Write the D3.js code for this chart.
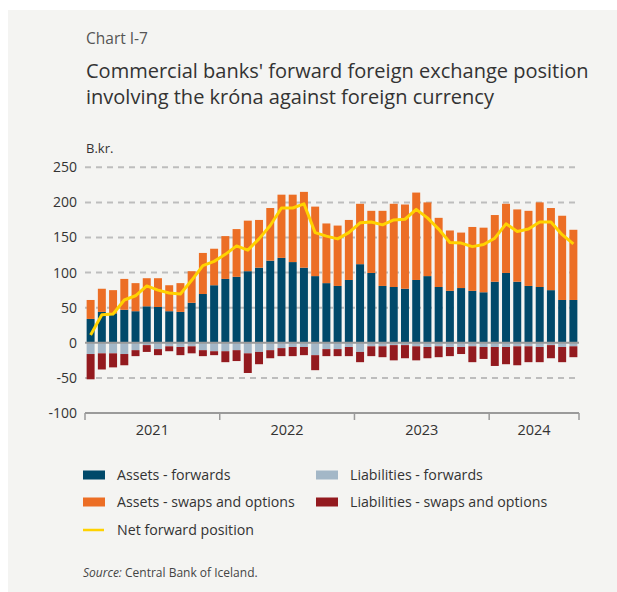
<!DOCTYPE html>
<html>
<head>
<meta charset="utf-8">
<script src="https://cdn.jsdelivr.net/npm/d3@7"></script>
<style>
  html, body { margin: 0; padding: 0; background: #ffffff; }
  svg { display: block; }
  text { font-family: "Open Sans", "Noto Sans", sans-serif; }
</style>
</head>
<body>
<svg id="chart" width="617" height="592"></svg>
<script>
// Monthly observations, Jan 2021 – Aug 2024 (B.kr.)
const months = d3.range(44).map(i => new Date(2021, i, 1));
const years = ["2021", "2022", "2023", "2024"];
const yTicks = [-100, -50, 0, 50, 100, 150, 200, 250];

const assetsForwards = [34, 44, 42, 47, 45, 52, 51, 45, 44, 57, 69.5, 82,
  91, 94, 102, 107, 117, 121, 115, 107, 95, 85, 81, 89.5,
  112, 99.5, 81, 79.5, 77, 89.5, 95, 79.5, 74, 78, 74, 72,
  87, 99.5, 87, 81, 79.5, 75, 61, 61];
const assetsSwaps = [27, 33, 33, 44, 40, 40, 41, 37, 41, 45, 58.5, 52,
  61, 68, 72, 68, 75, 90, 96, 108, 99, 85, 86, 85.5,
  86, 88.5, 107, 118.5, 120, 124.5, 105, 98.5, 86, 79, 91, 92,
  95, 98.5, 103, 107, 120.5, 117, 120, 100];
const liabilitiesForwards = [-16, -15, -15, -16, -10.5, -3.3, -9, -5, -6, -5, -10.5, -12,
  -12, -10.5, -15, -13, -10.5, -7.6, -6, -6, -17.6, -9, -9, -6,
  -13, -5, -5, -3.3, -3.3, -5, -6, -5, -6, -6, -5, -6,
  -6, -6, -5, -5, -6, -3.3, -6, -5];
const liabilitiesSwaps = [-36, -23, -20, -16, -8.5, -9.7, -8.6, -7, -11.6, -10, -8.5, -5.6,
  -15.6, -15.5, -28, -17.5, -11.5, -11.4, -13, -11.6, -21.4, -10, -10, -13,
  -14.6, -14, -15.5, -21.7, -18.7, -20, -16, -15.5, -13, -10, -22.6, -17,
  -27, -24.5, -27, -22.6, -21.6, -18.7, -21.6, -15.5];
const netPosition = [11, 40, 41, 61, 67, 81, 75, 71, 69.5, 89, 110, 116,
  126, 138, 132, 148, 167, 192, 192, 198, 157, 152, 148, 157,
  171, 172, 168, 175, 176, 190, 178, 162, 143, 142, 137, 140,
  149, 169.5, 158.6, 162, 172, 172, 154, 141];

const seriesNames = ["Assets - forwards", "Assets - swaps and options",
  "Liabilities - forwards", "Liabilities - swaps and options", "Net forward position"];
const colors = {
  af: "#00496a", as: "#ec6e25", lf: "#a3b7c7", ls: "#931a1f", net: "#ffd200"
};

const svg = d3.select("#chart");

// background panel
svg.append("rect").attr("x", 8).attr("y", 10).attr("width", 609).attr("height", 582)
  .attr("fill", "#f4f4f2");

// headings
svg.append("text").attr("x", 86).attr("y", 44).attr("font-size", 15.5)
  .attr("fill", "#555").text("Chart I-7");
const title = svg.append("text").attr("x", 86).attr("font-size", 20).attr("fill", "#333");
title.append("tspan").attr("x", 86).attr("y", 78).text("Commercial banks' forward foreign exchange position");
title.append("tspan").attr("x", 86).attr("y", 104).text("involving the króna against foreign currency");
svg.append("text").attr("x", 86).attr("y", 153).attr("font-size", 13)
  .attr("fill", "#333").text("B.kr.");

// scales
const x0 = 85, x1 = 579;
const x = d3.scaleBand().domain(d3.range(months.length)).range([x0, x1]).paddingInner(0.29).paddingOuter(0.145);
const y = d3.scaleLinear().domain([-100, 250]).range([413, 167.3]);

// gridlines
const grid = svg.append("g");
yTicks.filter(v => v !== -100 && v !== 0).forEach(v => {
  grid.append("line").attr("x1", x0).attr("x2", x1).attr("y1", y(v)).attr("y2", y(v))
    .attr("stroke", "#bdbdbd").attr("stroke-width", 2).attr("stroke-dasharray", "6,5");
});

// y axis labels (plain hyphen for negatives)
const yAxis = d3.axisLeft(y).tickValues(yTicks).tickSize(0).tickPadding(0)
  .tickFormat(d => String(d));
const yg = svg.append("g").attr("transform", `translate(${x0 - 8},0)`).call(yAxis);
yg.select(".domain").remove();
yg.selectAll("text").attr("font-size", 14).attr("fill", "#333")
  .style("font-family", "'Open Sans', sans-serif");

// stacked bars
const bars = svg.append("g");
months.forEach((m, i) => {
  const bx = x(i), bw = x.bandwidth();
  const a1 = assetsForwards[i], a2 = a1 + assetsSwaps[i];
  const l1 = liabilitiesForwards[i], l2 = l1 + liabilitiesSwaps[i];
  bars.append("rect").attr("x", bx).attr("width", bw).attr("y", y(a1)).attr("height", y(0) - y(a1)).attr("fill", colors.af);
  bars.append("rect").attr("x", bx).attr("width", bw).attr("y", y(a2)).attr("height", y(a1) - y(a2)).attr("fill", colors.as);
  bars.append("rect").attr("x", bx).attr("width", bw).attr("y", y(0)).attr("height", y(l1) - y(0)).attr("fill", colors.lf);
  bars.append("rect").attr("x", bx).attr("width", bw).attr("y", y(l1)).attr("height", y(l2) - y(l1)).attr("fill", colors.ls);
});

// zero line
svg.append("line").attr("x1", x0).attr("x2", x1).attr("y1", y(0)).attr("y2", y(0))
  .attr("stroke", "#9a9a9a").attr("stroke-width", 2);

// net position line
const line = d3.line().x((d, i) => x(i) + x.bandwidth() / 2).y(d => y(d));
svg.append("path").datum(netPosition).attr("d", line).attr("fill", "none")
  .attr("stroke", colors.net).attr("stroke-width", 3).attr("stroke-linejoin", "round");

// x axis with year ticks
const yearBounds = [0, 12, 24, 36, 44];
const boundX = b => b === 44 ? x1 : x0 + x.step() * b;
const xg = svg.append("g");
xg.append("line").attr("x1", x0).attr("x2", x1).attr("y1", y(-100)).attr("y2", y(-100))
  .attr("stroke", "#9a9a9a").attr("stroke-width", 2);
yearBounds.forEach(b => {
  const px = boundX(b);
  xg.append("line").attr("x1", px).attr("x2", px).attr("y1", y(-100)).attr("y2", y(-100) + 7)
    .attr("stroke", "#9a9a9a").attr("stroke-width", 1.5);
});
years.forEach((yr, k) => {
  const a = boundX(yearBounds[k]);
  const b = boundX(yearBounds[k + 1]);
  xg.append("text").attr("x", (a + b) / 2).attr("y", 435).attr("text-anchor", "middle")
    .attr("font-size", 14.5).attr("fill", "#333").text(yr);
});

// legend
const legend = svg.append("g");
const items = [
  { name: seriesNames[0], c: colors.af, lx: 83, ly: 475, type: "rect" },
  { name: seriesNames[1], c: colors.as, lx: 83, ly: 502, type: "rect" },
  { name: seriesNames[4], c: colors.net, lx: 83, ly: 530, type: "line" },
  { name: seriesNames[2], c: colors.lf, lx: 316, ly: 475, type: "rect" },
  { name: seriesNames[3], c: colors.ls, lx: 316, ly: 502, type: "rect" }
];
items.forEach(it => {
  if (it.type === "rect") {
    legend.append("rect").attr("x", it.lx).attr("y", it.ly - 4.5).attr("width", 22).attr("height", 9).attr("fill", it.c);
  } else {
    legend.append("line").attr("x1", it.lx).attr("x2", it.lx + 21).attr("y1", it.ly).attr("y2", it.ly)
      .attr("stroke", it.c).attr("stroke-width", 2.5);
  }
  legend.append("text").attr("x", it.lx + 34).attr("y", it.ly + 5).attr("font-size", 14.2)
    .attr("fill", "#333").text(it.name);
});

// source note
const src = svg.append("text").attr("x", 83).attr("y", 577).attr("font-size", 12).attr("fill", "#444");
src.append("tspan").attr("font-style", "italic").text("Source:");
src.append("tspan").text(" Central Bank of Iceland.");
</script>
</body>
</html>
